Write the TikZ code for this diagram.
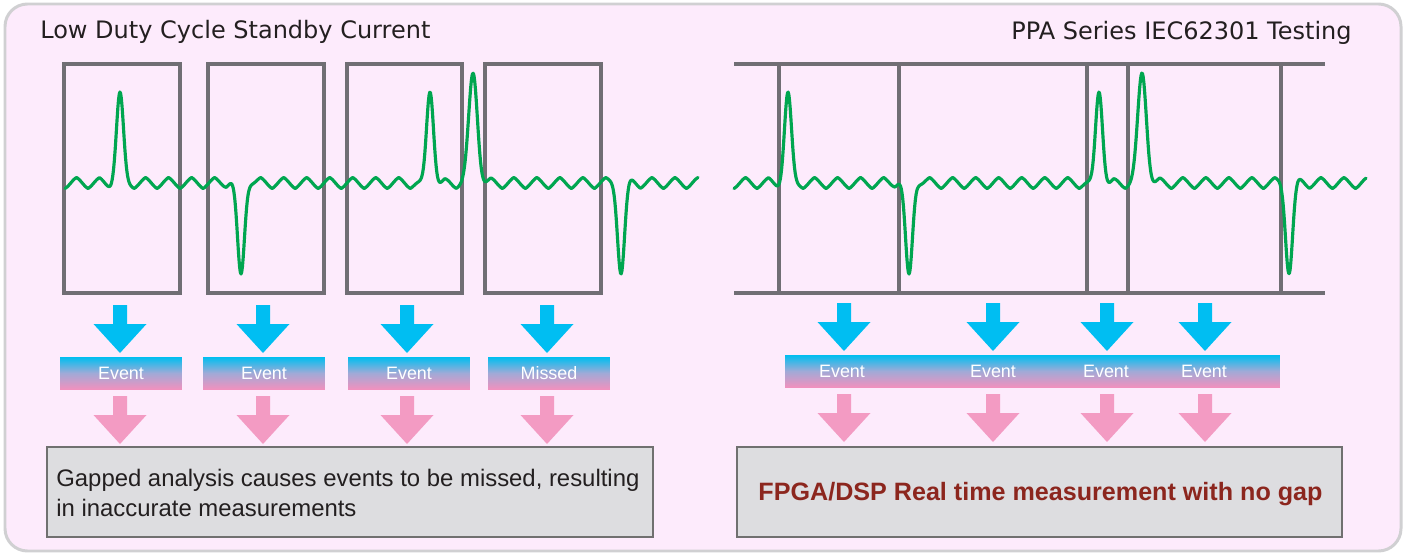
\documentclass[tikz,border=0pt]{standalone}
\usepackage{fontspec}
\setmainfont{Liberation Sans}
\newfontfamily\ttlfont{DejaVu Sans}
\definecolor{bgpink}{RGB}{253,235,252}
\definecolor{outerborder}{RGB}{208,208,210}
\definecolor{boxgray}{RGB}{112,110,116}
\definecolor{wavegreen}{RGB}{0,166,80}
\definecolor{arrblue}{RGB}{0,190,242}
\definecolor{arrpink}{RGB}{243,155,195}
\definecolor{barTop}{RGB}{0,190,240}
\definecolor{barMid}{RGB}{160,170,215}
\definecolor{barBot}{RGB}{240,145,190}
\definecolor{infofill}{RGB}{221,221,224}
\definecolor{infoborder}{RGB}{112,112,112}
\definecolor{ttlcol}{RGB}{35,31,32}
\definecolor{fpgared}{RGB}{140,38,30}
\pgfmathdeclarefunction{gbump}{3}{\pgfmathparse{exp(-1*pow(min(abs(#1-#2)/#3,8),2))}}
\pgfmathdeclarefunction{wig}{1}{\pgfmathparse{0.6*asin(cos(#1))/90+0.4*cos(#1)}}
\pgfmathdeclarefunction{wavel}{1}{\pgfmathparse{183+5.5*wig(15.64*(#1-65))*(1-gbump(#1,120,10)-gbump(#1,241,10)-gbump(#1,430,10)-gbump(#1,473,10)-gbump(#1,621,10))+5*(gbump(#1,120,10)-gbump(#1,241,10)+gbump(#1,430,10)+gbump(#1,473,10)-gbump(#1,621,10))-96*gbump(#1,120,5)+96*gbump(#1,241,5)-96*gbump(#1,430,5)-115*gbump(#1,473,6.2)+96*gbump(#1,621,5)}}
\pgfmathdeclarefunction{waver}{1}{\pgfmathparse{183+5.5*wig(15.64*(#1-734))*(1-gbump(#1,788,10)-gbump(#1,909,10)-gbump(#1,1099,10)-gbump(#1,1142,10)-gbump(#1,1289,10))+5*(gbump(#1,788,10)-gbump(#1,909,10)+gbump(#1,1099,10)+gbump(#1,1142,10)-gbump(#1,1289,10))-96*gbump(#1,788,5)+96*gbump(#1,909,5)-96*gbump(#1,1099,5)-115*gbump(#1,1142,6.2)+96*gbump(#1,1289,5)}}
\begin{document}
\begin{tikzpicture}[x=0.02cm,y=-0.02cm,
  frame/.style={draw=boxgray, line width=1.9pt},
  wave/.style={draw=wavegreen, line width=1.8pt, line join=round, line cap=round},
  bluearr/.style={fill=arrblue},
  pinkarr/.style={fill=arrpink},
  evbar/.style={rectangle, inner sep=0pt, minimum height=0.64cm, top color=barTop, bottom color=barBot, middle color=barMid},
  evtxt/.style={text=white, font=\fontsize{10.2}{12}\selectfont, inner sep=0pt},
  ttl/.style={font=\ttlfont\fontsize{13.66}{16}\selectfont, text=ttlcol, inner sep=0pt},
  infobox/.style={draw=infoborder, fill=infofill, line width=0.8pt, inner sep=0pt, minimum height=1.8cm},
  infotxt/.style={font=\fontsize{13.6}{17}\selectfont, text=ttlcol, inner sep=0pt}]
\useasboundingbox (0,0) rectangle (1406,554);
\draw[draw=outerborder, fill=bgpink, line width=1.7pt, rounded corners=0.45cm] (5,4) rectangle (1401,551);
% titles
\node[ttl, anchor=base west] (ttlL) at (40,39) {Low Duty Cycle Standby Current};
\node[ttl, anchor=base east] (ttlR) at (1352,40) {PPA Series IEC62301 Testing};
% left frames
\draw[frame] (64,64) rectangle (180,293);
\draw[frame] (208,64) rectangle (324,293);
\draw[frame] (347,64) rectangle (462,293);
\draw[frame] (485,64) rectangle (601,293);
% right frame lines
\draw[frame] (734,64) -- (1325,64);
\draw[frame] (734,293) -- (1325,293);
\foreach \vx in {779,899,1087,1128,1281} \draw[frame] (\vx,64) -- (\vx,293);
% waveforms
\draw[wave] plot[domain=65:698, samples=900] (\x,{wavel(\x)});
\draw[wave] plot[domain=734:1366, samples=900] (\x,{waver(\x)});
% left arrows
\foreach \ax in {120,263,407,547} {
  \fill[bluearr] (\ax-7,305) -- (\ax+7,305) -- (\ax+7,324) -- (\ax+26.5,324) -- (\ax,353) -- (\ax-26.5,324) -- (\ax-7,324) -- cycle;
  \fill[pinkarr] (\ax-7,396) -- (\ax+7,396) -- (\ax+7,415) -- (\ax+26.5,415) -- (\ax,444) -- (\ax-26.5,415) -- (\ax-7,415) -- cycle;
}
% right arrows
\foreach \ax in {844,993,1107,1205} {
  \fill[bluearr] (\ax-7,303) -- (\ax+7,303) -- (\ax+7,322) -- (\ax+26.5,322) -- (\ax,351) -- (\ax-26.5,322) -- (\ax-7,322) -- cycle;
  \fill[pinkarr] (\ax-7,394) -- (\ax+7,394) -- (\ax+7,413) -- (\ax+26.5,413) -- (\ax,442) -- (\ax-26.5,413) -- (\ax-7,413) -- cycle;
}
% left event bars
\node[evbar, evtxt, minimum width=2.44cm] (barL1) at (121,373) {Event};
\node[evbar, evtxt, minimum width=2.44cm] (barL2) at (264,373) {Event};
\node[evbar, evtxt, minimum width=2.44cm] (barL3) at (409,373) {Event};
\node[evbar, evtxt, minimum width=2.44cm] (barL4) at (549,373) {Missed};
% right event bar
\node[evbar, minimum width=9.9cm] (barR) at (1032.5,371) {};
\node[evtxt] (evR1) at (842,371) {Event};
\node[evtxt] (evR2) at (993,371) {Event};
\node[evtxt] (evR3) at (1106,371) {Event};
\node[evtxt] (evR4) at (1204,371) {Event};
% info boxes
\node[infobox, minimum width=12.12cm] (infoL) at (350,492) {};
\node[infotxt, anchor=base west] (infoL1) at (56,486) {Gapped analysis causes events to be missed, resulting};
\node[infotxt, anchor=base west] (infoL2) at (56,516) {in inaccurate measurements};
\node[infobox, minimum width=12.1cm] (infoR) at (1039.5,492) {};
\node[font=\bfseries\fontsize{14.3}{17}\selectfont, text=fpgared, inner sep=0pt, anchor=base] (infoRt) at (1040.5,500) {FPGA/DSP Real time measurement with no gap};
\end{tikzpicture}
\end{document}
